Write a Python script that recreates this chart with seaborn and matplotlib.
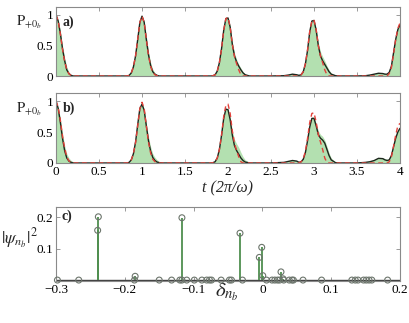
import numpy as np
import matplotlib
matplotlib.use('Agg')
import matplotlib.pyplot as plt
import seaborn as sns

# time grid (units of 2pi/omega), dense around the revivals
t = [0, 0.025, 0.05, 0.075, 0.1, 0.125, 0.15, 0.175, 0.2, 0.25,
     0.5, 0.75,
     0.8, 0.825, 0.85, 0.875, 0.9, 0.925, 0.95, 0.975, 1.0, 1.025, 1.05,
     1.075, 1.1, 1.125, 1.15, 1.175, 1.2, 1.25, 1.3,
     1.5, 1.75,
     1.8, 1.825, 1.85, 1.875, 1.9, 1.925, 1.95, 1.975, 2.0, 2.025, 2.05,
     2.075, 2.1, 2.125, 2.15, 2.175, 2.2, 2.25, 2.3,
     2.5, 2.65, 2.7, 2.75,
     2.8, 2.825, 2.85, 2.875, 2.9, 2.925, 2.95, 2.975, 3.0, 3.025, 3.05,
     3.075, 3.1, 3.125, 3.15, 3.175, 3.2, 3.25, 3.3,
     3.5, 3.6, 3.65, 3.7, 3.75, 3.8,
     3.825, 3.85, 3.875, 3.9, 3.925, 3.95, 3.975, 4.0]

# panel a
a_fill = [1.0, 0.92, 0.74, 0.5, 0.3, 0.15, 0.06, 0.02, 0.005, 0,
          0, 0,
          0, 0.005, 0.02, 0.07, 0.18, 0.37, 0.64, 0.9, 0.98, 0.9, 0.65,
          0.4, 0.22, 0.11, 0.05, 0.02, 0.005, 0, 0,
          0, 0,
          0, 0.01, 0.04, 0.11, 0.26, 0.5, 0.78, 0.95, 0.95, 0.82, 0.56,
          0.38, 0.27, 0.19, 0.13, 0.07, 0.03, 0.005, 0,
          0, 0.005, 0.02, 0.035,
          0.025, 0.015, 0.03, 0.1, 0.24, 0.47, 0.75, 0.9, 0.91, 0.78, 0.55,
          0.4, 0.32, 0.25, 0.17, 0.1, 0.05, 0.01, 0,
          0, 0.01, 0.02, 0.035, 0.05, 0.05,
          0.04, 0.04, 0.08, 0.2, 0.42, 0.64, 0.78, 0.85]
a_line = [1.0, 0.9, 0.7, 0.45, 0.25, 0.1, 0.04, 0.01, 0, 0,
          0, 0,
          0, 0, 0.01, 0.05, 0.15, 0.33, 0.6, 0.88, 0.98, 0.88, 0.6,
          0.35, 0.17, 0.07, 0.03, 0.01, 0, 0, 0,
          0, 0,
          0, 0.005, 0.02, 0.08, 0.22, 0.45, 0.75, 0.94, 0.95, 0.8, 0.52,
          0.33, 0.23, 0.16, 0.1, 0.05, 0.02, 0, 0,
          0, 0.005, 0.015, 0.03,
          0.02, 0.01, 0.02, 0.07, 0.2, 0.42, 0.72, 0.9, 0.91, 0.75, 0.5,
          0.33, 0.25, 0.19, 0.13, 0.07, 0.03, 0.005, 0,
          0, 0.005, 0.015, 0.03, 0.045, 0.04,
          0.03, 0.03, 0.06, 0.16, 0.38, 0.6, 0.76, 0.84]
a_dash = [1.0, 0.9, 0.69, 0.44, 0.24, 0.1, 0.035, 0.01, 0, 0,
          0, 0,
          0, 0, 0.01, 0.05, 0.15, 0.33, 0.6, 0.88, 0.98, 0.88, 0.6,
          0.34, 0.16, 0.06, 0.02, 0.005, 0, 0, 0,
          0, 0,
          0, 0.005, 0.02, 0.08, 0.22, 0.45, 0.75, 0.94, 0.96, 0.8, 0.52,
          0.32, 0.2, 0.1, 0.02, 0, 0, 0, 0,
          0, 0, 0, 0,
          0, 0, 0.02, 0.07, 0.2, 0.43, 0.73, 0.9, 0.92, 0.76, 0.5,
          0.33, 0.22, 0.1, 0.02, 0, 0, 0, 0,
          0, 0, 0, 0, 0, 0,
          0, 0, 0.04, 0.14, 0.36, 0.6, 0.78, 0.87]

# panel b
b_fill = [1.0, 0.9, 0.72, 0.48, 0.28, 0.15, 0.08, 0.04, 0.02, 0,
          0, 0,
          0, 0.005, 0.02, 0.07, 0.18, 0.38, 0.65, 0.89, 0.95, 0.87, 0.64,
          0.42, 0.26, 0.15, 0.09, 0.05, 0.025, 0.005, 0,
          0, 0,
          0, 0.01, 0.04, 0.11, 0.26, 0.5, 0.76, 0.88, 0.87, 0.74, 0.52,
          0.38, 0.31, 0.25, 0.17, 0.1, 0.05, 0.01, 0,
          0, 0.01, 0.03, 0.045,
          0.04, 0.02, 0.03, 0.09, 0.21, 0.4, 0.62, 0.74, 0.74, 0.64, 0.52,
          0.46, 0.43, 0.37, 0.27, 0.16, 0.08, 0.015, 0,
          0, 0.01, 0.03, 0.05, 0.085, 0.085,
          0.07, 0.06, 0.07, 0.15, 0.3, 0.44, 0.53, 0.58]
b_line = [1.0, 0.88, 0.66, 0.4, 0.2, 0.08, 0.03, 0.01, 0, 0,
          0, 0,
          0, 0, 0.01, 0.05, 0.15, 0.34, 0.62, 0.88, 0.95, 0.85, 0.6,
          0.36, 0.19, 0.09, 0.04, 0.015, 0.005, 0, 0,
          0, 0,
          0, 0.005, 0.02, 0.08, 0.22, 0.45, 0.72, 0.87, 0.86, 0.7, 0.45,
          0.28, 0.2, 0.14, 0.08, 0.04, 0.015, 0, 0,
          0, 0.01, 0.025, 0.04,
          0.03, 0.01, 0.02, 0.06, 0.17, 0.36, 0.58, 0.72, 0.72, 0.6, 0.46,
          0.4, 0.37, 0.32, 0.22, 0.12, 0.05, 0.005, 0,
          0, 0.01, 0.02, 0.04, 0.075, 0.07,
          0.05, 0.04, 0.05, 0.12, 0.26, 0.4, 0.5, 0.56]
b_dash = [1.0, 0.9, 0.69, 0.44, 0.24, 0.1, 0.035, 0.01, 0, 0,
          0, 0,
          0, 0, 0.01, 0.05, 0.15, 0.33, 0.6, 0.88, 0.98, 0.88, 0.6,
          0.34, 0.16, 0.06, 0.02, 0.005, 0, 0, 0,
          0, 0,
          0, 0.005, 0.02, 0.08, 0.22, 0.45, 0.75, 0.93, 0.95, 0.8, 0.52,
          0.32, 0.2, 0.1, 0.02, 0, 0, 0, 0,
          0, 0, 0, 0,
          0, 0, 0.02, 0.07, 0.19, 0.4, 0.65, 0.8, 0.81, 0.66, 0.46,
          0.34, 0.22, 0.08, 0.01, 0, 0, 0, 0,
          0, 0, 0, 0, 0, 0,
          0, 0, 0.02, 0.1, 0.27, 0.45, 0.6, 0.64]

t_ticks = [0, 0.5, 1, 1.5, 2, 2.5, 3, 3.5, 4]
t_labels = ['0', '0.5', '1', '1.5', '2', '2.5', '3', '3.5', '4']

# panel c: detunings and populations
c_delta = [-0.298, -0.267, -0.2385, -0.2395, -0.186, -0.185, -0.150, -0.132,
           -0.120, -0.117, -0.117, -0.110, -0.099, -0.088, -0.081, -0.077,
           -0.074, -0.060, -0.048, -0.045, -0.0326, -0.029, -0.0045, -0.001,
           0.0005, 0.006, 0.014, 0.018, 0.022, 0.025, 0.027, 0.030, 0.031,
           0.039, 0.043, 0.045, 0.059, 0.086, 0.130, 0.135, 0.139, 0.147,
           0.151, 0.155, 0.159, 0.182]
c_pop = [0, 0, 0.201, 0.158, 0, 0.012, 0, 0,
         0, 0.198, 0, 0, 0, 0, 0, 0,
         0, 0, 0, 0, 0.149, 0, 0.072, 0.104,
         0.014, 0, 0, 0, 0, 0, 0.026, 0.004, 0,
         0, 0, 0, 0, 0, 0, 0, 0, 0,
         0, 0, 0, 0]

sns.set_theme(style='ticks')
plt.rcParams['font.family'] = ['Liberation Serif', 'DejaVu Serif']
plt.rcParams['mathtext.fontset'] = 'stix'

frame = '#8a8a8a'
green_fill = '#b3e0b0'
line_col = '#1c261c'
red = '#e2413a'

fig = plt.figure(figsize=(4.09, 3.23), dpi=100)
ax_a = fig.add_axes([0.137, 0.7647, 0.841, 0.2136])
ax_b = fig.add_axes([0.137, 0.4954, 0.841, 0.2167])
ax_c = fig.add_axes([0.137, 0.130, 0.841, 0.229])


def style(ax):
    for s in ax.spines.values():
        s.set_color(frame)
        s.set_linewidth(0.8)
    ax.tick_params(direction='in', length=3, width=0.6, color=frame,
                   top=True, right=True, labelsize=9.5, pad=2,
                   labelcolor='black')


for ax, f, ln, dsh, tag in [(ax_a, a_fill, a_line, a_dash, 'a)'),
                            (ax_b, b_fill, b_line, b_dash, 'b)')]:
    ax.fill_between(t, f, 0, color=green_fill, lw=0)
    sns.lineplot(x=t, y=ln, ax=ax, color=line_col, lw=1.0, estimator=None)
    sns.lineplot(x=t, y=dsh, ax=ax, color=red, lw=1.0, estimator=None,
                 dashes=False, linestyle=(0, (3.5, 2.5)))
    ax.set_xlim(0, 4)
    ax.set_ylim(0, 1.13)
    ax.set_xticks(t_ticks)
    ax.set_xticklabels(t_labels)
    ax.set_yticks([0, 0.5, 1])
    ax.set_yticklabels(['0', '0.5', '1'])
    ax.set_xlabel('')
    ax.set_ylabel('')
    style(ax)
    ax.text(0.02, 0.78, tag, transform=ax.transAxes, fontsize=10,
            fontweight='bold', va='center', ha='left')

ax_a.tick_params(labelbottom=False)

# panel c stems
ax_c.axhline(0, color='#404040', lw=1.0, zorder=1)
ax_c.vlines(c_delta, 0, c_pop, color='#4f8f4f', lw=1.3, zorder=2)
sns.scatterplot(x=c_delta, y=c_pop, ax=ax_c, s=18, marker='o',
                facecolor='none', edgecolor='#6c756c', linewidth=0.8,
                zorder=3, clip_on=False)
ax_c.set_xlim(-0.3, 0.2)
ax_c.set_ylim(-0.003, 0.232)
ax_c.set_xticks([-0.3, -0.2, -0.1, 0, 0.1, 0.2])
ax_c.set_xticklabels(['\u22120.3', '\u22120.2', '\u22120.1', '0', '0.1', '0.2'])
ax_c.set_yticks([0.1, 0.2])
ax_c.set_yticklabels(['0.1', '0.2'])
style(ax_c)
ax_c.text(0.015, 0.87, 'c)', transform=ax_c.transAxes, fontsize=10,
          fontweight='bold', va='center', ha='left')

# axis labels
fig.text(16 / 409, 1 - 25 / 323, r'$\mathrm{P}_{+0_b}$', fontsize=10.5,
         ha='left', va='baseline')
fig.text(16 / 409, 1 - 112 / 323, r'$\mathrm{P}_{+0_b}$', fontsize=10.5,
         ha='left', va='baseline')
fig.text(228 / 409, 1 - 188 / 323, 't (2\u03c0/\u03c9)', fontsize=11.5,
         style='italic', ha='center', va='center')
fig.text(1 / 409, 1 - 244 / 323, r'$|\psi_{n_b}|^2$', fontsize=12.5,
         ha='left', va='baseline')
fig.text(215 / 409, 1 - 281 / 323, r'$\delta_{n_b}$', fontsize=15,
         ha='left', va='top')

fig.savefig('out.png', dpi=100)
